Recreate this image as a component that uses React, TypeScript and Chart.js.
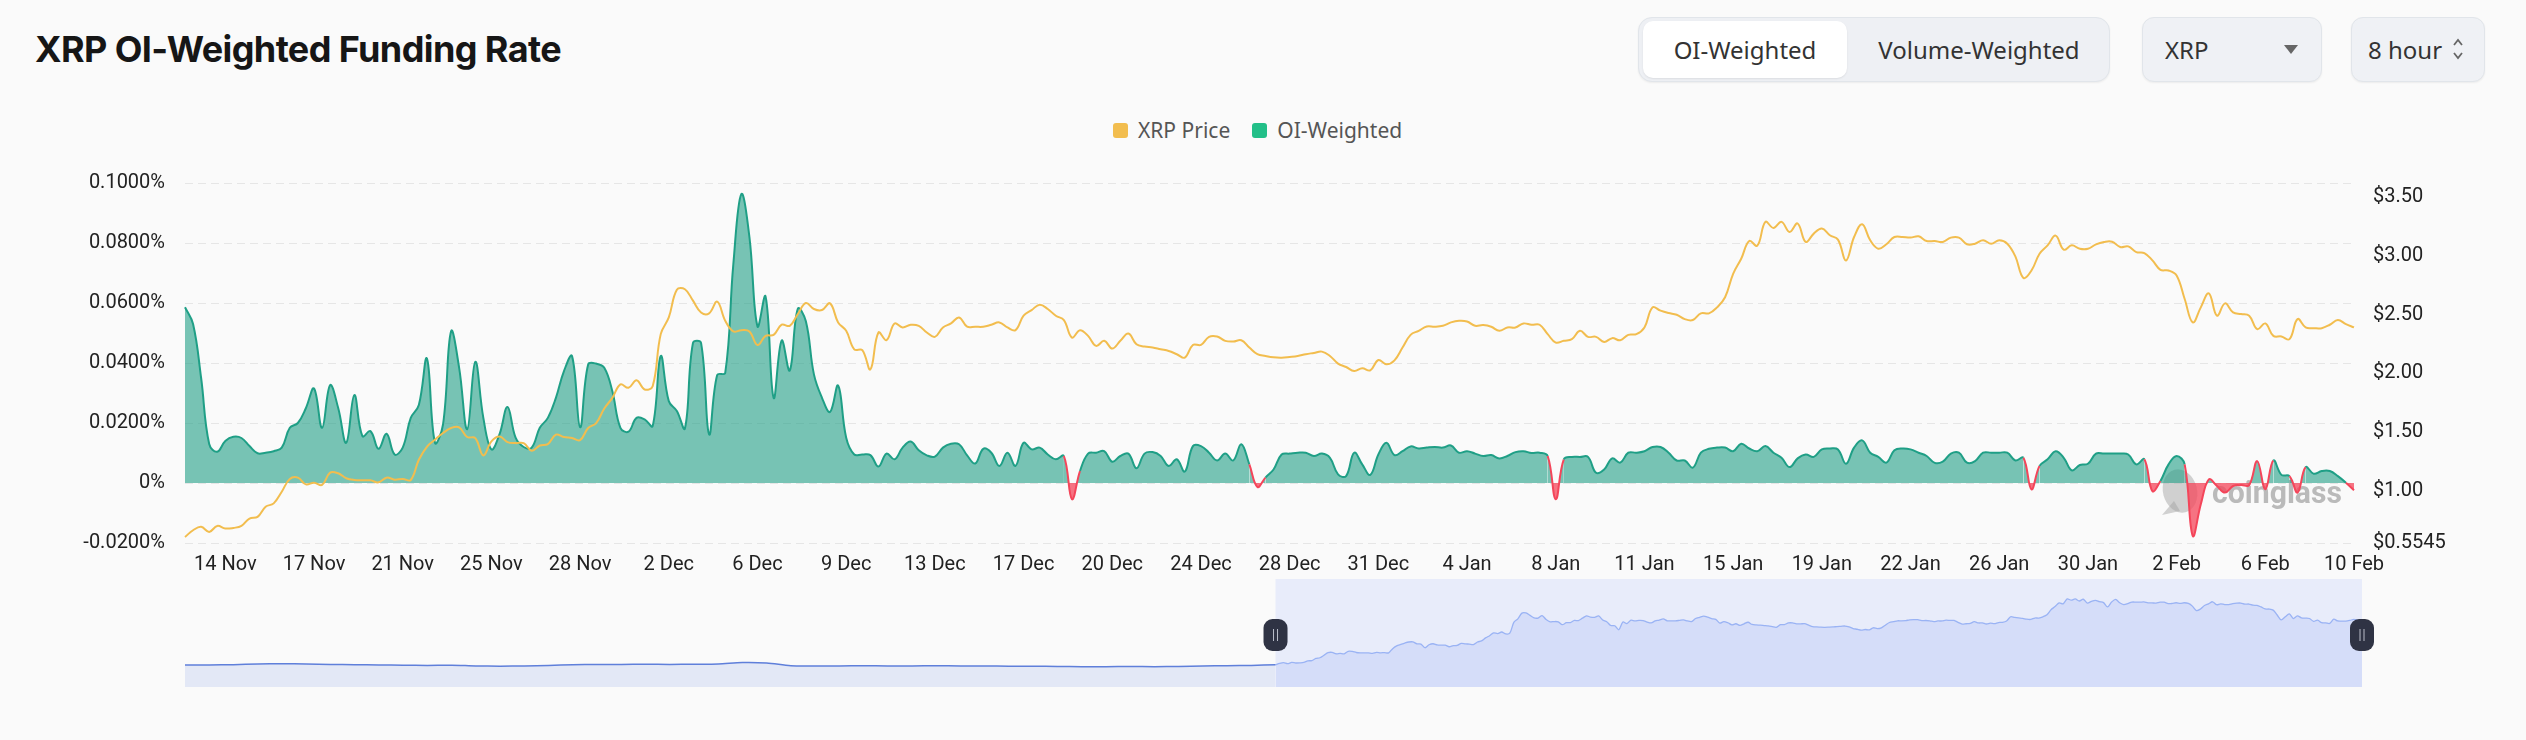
import React, { useEffect, useRef } from "react";
import { Chart, registerables } from "chart.js";

Chart.register(...registerables);

// ---------- data ----------
const START_UTC = Date.UTC(2024, 10, 12, 8); // first 8-hour bucket
const STEP_HOURS = 8;
const MONTHS = ["Jan", "Feb", "Mar", "Apr", "May", "Jun", "Jul", "Aug", "Sep", "Oct", "Nov", "Dec"];
const TICK_FIRST = 5;
const TICK_EVERY = 11;

// OI-weighted funding rate, in percent
const FUNDING = [
  0.0586, 0.053, 0.035, 0.013, 0.0104, 0.014, 0.0154, 0.015, 0.0123, 0.0099,
  0.0101, 0.0106, 0.0118, 0.0184, 0.02, 0.025, 0.0315, 0.0184, 0.0326, 0.025,
  0.0134, 0.0293, 0.0156, 0.0173, 0.0114, 0.0164, 0.0095, 0.0118, 0.0217, 0.026,
  0.0415, 0.0134, 0.0195, 0.0506, 0.0384, 0.0179, 0.0404, 0.0217, 0.0112, 0.0162,
  0.0253, 0.0151, 0.012, 0.0118, 0.0184, 0.0217, 0.0284, 0.0373, 0.0423, 0.0186,
  0.0395, 0.0398, 0.0384, 0.0306, 0.0184, 0.0171, 0.0217, 0.0212, 0.019, 0.0423,
  0.0273, 0.024, 0.0182, 0.0467, 0.0467, 0.0162, 0.036, 0.0367, 0.0728, 0.0963,
  0.082, 0.0522, 0.0622, 0.0284, 0.0475, 0.0375, 0.0581, 0.0539, 0.0362, 0.0284,
  0.0237, 0.0325, 0.0151, 0.0095, 0.0095, 0.0093, 0.0055, 0.0098, 0.0079, 0.0118,
  0.0138, 0.0109, 0.0092, 0.0088, 0.0118, 0.0131, 0.0129, 0.0092, 0.0065, 0.0114,
  0.0101, 0.0057, 0.0101, 0.0057, 0.0134, 0.0112, 0.0118, 0.0095, 0.0079, 0.009,
  -0.0054, 0.004, 0.0098, 0.0101, 0.0106, 0.0071, 0.009, 0.0098, 0.0049, 0.0098,
  0.0103, 0.009, 0.0057, 0.0079, 0.0038, 0.0123, 0.0123, 0.0101, 0.0075, 0.0098,
  0.0075, 0.0129, 0.0062, -0.0013, 0.0018, 0.0045, 0.0095, 0.0098, 0.0101, 0.0101,
  0.009, 0.0098, 0.0084, 0.0029, 0.0023, 0.0101, 0.0062, 0.0027, 0.0095, 0.0134,
  0.0093, 0.0106, 0.0122, 0.0115, 0.0118, 0.012, 0.0118, 0.0125, 0.0101, 0.0106,
  0.0098, 0.009, 0.0093, 0.0082, 0.009, 0.0103, 0.0106, 0.01, 0.0101, 0.009,
  -0.0054, 0.0079, 0.0087, 0.0087, 0.0087, 0.0034, 0.0045, 0.0082, 0.0068, 0.0101,
  0.0101, 0.0106, 0.012, 0.012, 0.0101, 0.0075, 0.0075, 0.0051, 0.0101, 0.0114,
  0.0118, 0.0118, 0.0106, 0.0131, 0.0115, 0.0106, 0.0123, 0.0101, 0.0084, 0.0053,
  0.0082, 0.0095, 0.0087, 0.0112, 0.0115, 0.0112, 0.0064, 0.0118, 0.0142, 0.0101,
  0.0087, 0.0068, 0.0109, 0.0115, 0.0112, 0.0101, 0.009, 0.0067, 0.0071, 0.0098,
  0.0101, 0.0068, 0.0073, 0.0101, 0.0101, 0.0101, 0.0101, 0.0075, 0.0084, -0.0021,
  0.0057, 0.0079, 0.0106, 0.0084, 0.0042, 0.006, 0.0064, 0.0098, 0.0098, 0.0098,
  0.0098, 0.0095, 0.0062, 0.0079, -0.0027, 0.0007, 0.0062, 0.009, 0.0062, -0.0176,
  -0.0071, 0.0012, -0.001, -0.0032, -0.001, -0.0007, -0.0007, 0.0073, -0.0021, 0.0075,
  0.0027, 0.0023, -0.0032, 0.0053, 0.0031, 0.004, 0.004, 0.0023, 0.0001, -0.0024,
];

// XRP price, USD
const PRICE = [
  0.606, 0.663, 0.692, 0.649, 0.7, 0.678, 0.683, 0.7, 0.763, 0.777,
  0.863, 0.892, 0.991, 1.1, 1.111, 1.054, 1.068, 1.049, 1.154, 1.148,
  1.106, 1.091, 1.088, 1.088, 1.071, 1.111, 1.094, 1.1, 1.091, 1.263,
  1.374, 1.434, 1.491, 1.534, 1.539, 1.457, 1.448, 1.3, 1.42, 1.462,
  1.414, 1.405, 1.405, 1.34, 1.385, 1.397, 1.477, 1.457, 1.448, 1.431,
  1.534, 1.576, 1.7, 1.79, 1.905, 1.876, 1.94, 1.862, 1.89, 2.333,
  2.475, 2.71, 2.715, 2.618, 2.518, 2.51, 2.61, 2.447, 2.356, 2.367,
  2.356, 2.24, 2.318, 2.327, 2.413, 2.404, 2.504, 2.598, 2.547, 2.538,
  2.595, 2.433, 2.361, 2.204, 2.196, 2.033, 2.347, 2.281, 2.424, 2.39,
  2.413, 2.404, 2.347, 2.31, 2.39, 2.424, 2.475, 2.396, 2.396, 2.396,
  2.413, 2.433, 2.39, 2.367, 2.49, 2.538, 2.584, 2.547, 2.49, 2.453,
  2.304, 2.367, 2.318, 2.233, 2.276, 2.21, 2.276, 2.338, 2.247, 2.227,
  2.219, 2.204, 2.19, 2.162, 2.133, 2.241, 2.241, 2.31, 2.313, 2.276,
  2.27, 2.281, 2.219, 2.162, 2.147, 2.136, 2.133, 2.139, 2.147, 2.162,
  2.173, 2.184, 2.147, 2.082, 2.053, 2.019, 2.042, 2.025, 2.113, 2.076,
  2.11, 2.219, 2.327, 2.361, 2.398, 2.396, 2.404, 2.433, 2.447, 2.441,
  2.404, 2.41, 2.396, 2.361, 2.39, 2.39, 2.424, 2.413, 2.413, 2.333,
  2.261, 2.276, 2.29, 2.361, 2.31, 2.31, 2.267, 2.299, 2.281, 2.327,
  2.333, 2.39, 2.561, 2.533, 2.513, 2.498, 2.461, 2.453, 2.51, 2.51,
  2.561, 2.647, 2.847, 2.975, 3.126, 3.086, 3.289, 3.237, 3.289, 3.203,
  3.275, 3.118, 3.189, 3.232, 3.175, 3.138, 2.961, 3.16, 3.269, 3.132,
  3.06, 3.098, 3.16, 3.16, 3.155, 3.166, 3.126, 3.126, 3.118, 3.155,
  3.155, 3.098, 3.103, 3.132, 3.103, 3.132, 3.103, 2.995, 2.812, 2.875,
  3.018, 3.089, 3.172, 3.052, 3.089, 3.06, 3.06, 3.098, 3.118, 3.12,
  3.075, 3.08, 3.032, 3.023, 2.961, 2.881, 2.875, 2.832, 2.632, 2.433,
  2.561, 2.681, 2.49, 2.595, 2.518, 2.504, 2.49, 2.376, 2.424, 2.318,
  2.313, 2.29, 2.461, 2.39, 2.384, 2.384, 2.413, 2.453, 2.418, 2.39,
];

// Earlier price history shown only in the zoom navigator (one value every 6 buckets)
const NAV_HISTORY_STEP = 6;
const NAV_HISTORY = [
  0.6, 0.6, 0.61, 0.64, 0.65, 0.64, 0.62, 0.61, 0.6, 0.59,
  0.58, 0.59, 0.56, 0.55, 0.56, 0.58, 0.61, 0.62, 0.62, 0.63,
  0.62, 0.63, 0.64, 0.7, 0.68, 0.57, 0.56, 0.56, 0.57, 0.56,
  0.56, 0.57, 0.56, 0.56, 0.55, 0.55, 0.54, 0.53, 0.53, 0.54,
  0.53, 0.54, 0.56, 0.57, 0.58,
];

const LEFT_TICKS = [-0.02, 0, 0.02, 0.04, 0.06, 0.08, 0.1];
const RIGHT_MIN = 0.5545;
const RIGHT_MAX = 3.62;
const RIGHT_TICKS = [0.5545, 1, 1.5, 2, 2.5, 3, 3.5];

const SERIES_PRICE = "XRP Price";
const SERIES_FUNDING = "OI-Weighted";

// ---------- styles ----------
const PRICE_COLOR = "#f2bd4e";
const GREEN_LINE = "#1f9f86";
const GREEN_FILL = "rgba(31,159,134,0.6)";
const GREEN_LEGEND = "#22bf88";
const RED_LINE = "#f4455a";
const RED_FILL = "rgba(244,69,90,0.75)";
const BG = "#fafafa";
const TICK_FONT = { family: "Roboto", size: 20 };

const CATEGORIES = FUNDING.map((_, i) => {
  const d = new Date(START_UTC + i * STEP_HOURS * 3600 * 1000);
  return `${d.getUTCDate()} ${MONTHS[d.getUTCMonth()]}`;
});

const PRICE_X0 = NAV_HISTORY.length * NAV_HISTORY_STEP;

const watermark = {
  id: "watermark",
  beforeDatasetsDraw(chart: any) {
    const { ctx, chartArea: a } = chart;
    ctx.save();
    ctx.fillStyle = "rgba(165,165,165,0.5)";
    ctx.beginPath();
    ctx.ellipse(a.right - 174, a.bottom - 52, 17, 22, -0.25, 0, Math.PI * 2);
    ctx.fill();
    ctx.beginPath();
    ctx.moveTo(a.right - 192, a.bottom - 28);
    ctx.lineTo(a.right - 180, a.bottom - 42);
    ctx.lineTo(a.right - 174, a.bottom - 32);
    ctx.closePath();
    ctx.fill();
    ctx.font = "bold 32px Roboto";
    ctx.textAlign = "right";
    ctx.textBaseline = "alphabetic";
    ctx.fillStyle = "rgba(170,170,170,0.8)";
    ctx.fillText("coinglass", a.right - 12, a.bottom - 40, 130);
    ctx.restore();
  },
};

const navWindow = {
  id: "navWindow",
  beforeDatasetsDraw(chart: any) {
    const { ctx, chartArea: a, scales } = chart;
    const x0 = scales.x.getPixelForValue(PRICE_X0);
    const x1 = scales.x.getPixelForValue(PRICE_X0 + PRICE.length - 1);
    ctx.save();
    ctx.fillStyle = "#e8ecfa";
    ctx.fillRect(x0, a.top, x1 - x0, a.bottom - a.top);
    ctx.restore();
  },
  afterDraw(chart: any) {
    const { ctx, chartArea: a, scales } = chart;
    const xs = [
      scales.x.getPixelForValue(PRICE_X0),
      scales.x.getPixelForValue(PRICE_X0 + PRICE.length - 1),
    ];
    const cy = (a.top + a.bottom) / 2 + 2;
    ctx.save();
    for (const x of xs) {
      const w = 24, h = 32, r = 9;
      ctx.fillStyle = "#2f3344";
      ctx.beginPath();
      ctx.roundRect(x - w / 2, cy - h / 2, w, h, r);
      ctx.fill();
      ctx.strokeStyle = "rgba(220,224,235,0.8)";
      ctx.lineWidth = 1;
      ctx.beginPath();
      ctx.moveTo(x - 2, cy - 6);
      ctx.lineTo(x - 2, cy + 6);
      ctx.moveTo(x + 2, cy - 6);
      ctx.lineTo(x + 2, cy + 6);
      ctx.stroke();
    }
    ctx.restore();
  },
};

function MainChart() {
  const ref = useRef<HTMLCanvasElement | null>(null);
  useEffect(() => {
    if (!ref.current) return;
    const chart = new Chart(ref.current, {
      type: "line",
      data: {
        labels: CATEGORIES,
        datasets: [
          {
            label: SERIES_PRICE,
            data: PRICE,
            yAxisID: "yR",
            borderColor: PRICE_COLOR,
            borderWidth: 2,
            pointRadius: 0,
            tension: 0.4,
            fill: false,
            order: 0,
          },
          {
            label: SERIES_FUNDING,
            data: FUNDING,
            yAxisID: "yL",
            borderColor: GREEN_LINE,
            borderWidth: 2,
            pointRadius: 0,
            tension: 0.4,
            fill: { target: { value: 0 }, above: GREEN_FILL, below: RED_FILL },
            segment: {
              borderColor: (c: any) =>
                c.p0.parsed.y < 0 || c.p1.parsed.y < 0 ? RED_LINE : GREEN_LINE,
            },
            order: 1,
          } as any,
        ],
      },
      options: {
        animation: false,
        responsive: true,
        maintainAspectRatio: false,
        events: [],
        layout: { padding: { top: 83, bottom: 0, left: 0, right: 0 } },
        plugins: { legend: { display: false }, tooltip: { enabled: false } },
        scales: {
          x: {
            type: "category",
            offset: false,
            grid: { display: false, drawTicks: false },
            border: { display: false },
            ticks: {
              autoSkip: false,
              maxRotation: 0,
              padding: 10,
              color: "#222",
              font: TICK_FONT,
              callback: function (this: any, val: any, index: number) {
                return (index - TICK_FIRST) % TICK_EVERY === 0 && index >= TICK_FIRST
                  ? CATEGORIES[index]
                  : null;
              },
            },
            afterFit: (s: any) => {
              s.height = 47;
            },
          },
          yL: {
            type: "linear",
            position: "left",
            min: -0.02,
            max: 0.1,
            afterBuildTicks: (s: any) => {
              s.ticks = LEFT_TICKS.map((v) => ({ value: v }));
            },
            afterFit: (s: any) => {
              s.width = 185;
            },
            grid: { color: "#e6e6e6", lineWidth: 1, drawTicks: false },
            border: { display: false, dash: [8, 5] },
            ticks: {
              padding: 20,
              color: "#222",
              font: TICK_FONT,
              callback: (v: any) => (v === 0 ? "0%" : Number(v).toFixed(4) + "%"),
            },
          },
          yR: {
            type: "linear",
            position: "right",
            min: RIGHT_MIN,
            max: RIGHT_MAX,
            afterBuildTicks: (s: any) => {
              s.ticks = RIGHT_TICKS.map((v) => ({ value: v }));
            },
            afterFit: (s: any) => {
              s.width = 172;
            },
            grid: { display: false, drawTicks: false },
            border: { display: false },
            ticks: {
              padding: 19,
              color: "#222",
              font: TICK_FONT,
              callback: (v: any) =>
                v === RIGHT_MIN ? "$" + RIGHT_MIN : "$" + Number(v).toFixed(2),
            },
          },
        },
      } as any,
      plugins: [watermark],
    });
    return () => chart.destroy();
  }, []);
  return (
    <div style={{ position: "absolute", left: 0, top: 100, width: 2526, height: 490 }}>
      <canvas ref={ref} />
    </div>
  );
}

function NavChart() {
  const ref = useRef<HTMLCanvasElement | null>(null);
  useEffect(() => {
    if (!ref.current) return;
    const history = NAV_HISTORY.map((v, k) => ({ x: k * NAV_HISTORY_STEP, y: v }));
    history.push({ x: PRICE_X0, y: PRICE[0] });
    const current = PRICE.map((v, i) => ({ x: PRICE_X0 + i, y: v }));
    const chart = new Chart(ref.current, {
      type: "line",
      data: {
        datasets: [
          {
            data: history,
            borderColor: "#5f7fda",
            borderWidth: 1.5,
            pointRadius: 0,
            tension: 0.3,
            fill: "start",
            backgroundColor: "#e3e8f6",
          },
          {
            data: current,
            borderColor: "#9ab3f4",
            borderWidth: 1.3,
            pointRadius: 0,
            tension: 0.3,
            fill: "start",
            backgroundColor: "#d5ddf9",
          },
        ],
      },
      options: {
        animation: false,
        responsive: true,
        maintainAspectRatio: false,
        events: [],
        layout: { padding: { left: 185, right: 164, top: 0, bottom: 0 } },
        plugins: { legend: { display: false }, tooltip: { enabled: false } },
        scales: {
          x: { type: "linear", display: false, min: 0, max: PRICE_X0 + PRICE.length - 1 },
          y: { type: "linear", display: false, min: -0.3, max: 4.1 },
        },
      } as any,
      plugins: [navWindow],
    });
    return () => chart.destroy();
  }, []);
  return (
    <div style={{ position: "absolute", left: 0, top: 579, width: 2526, height: 108 }}>
      <canvas ref={ref} />
    </div>
  );
}

function Legend() {
  const items = [
    { label: SERIES_PRICE, color: PRICE_COLOR },
    { label: SERIES_FUNDING, color: GREEN_LEGEND },
  ];
  return (
    <div
      style={{
        position: "absolute",
        left: 1113,
        top: 116,
        height: 28,
        display: "flex",
        alignItems: "center",
        gap: 22,
        fontFamily: "Noto Sans",
        fontSize: 21,
        color: "#555",
      }}
    >
      {items.map((it) => (
        <div key={it.label} style={{ display: "flex", alignItems: "center", gap: 10 }}>
          <div style={{ width: 15, height: 15, borderRadius: 3, background: it.color }} />
          <span>{it.label}</span>
        </div>
      ))}
    </div>
  );
}

function Header() {
  const boxBase: React.CSSProperties = {
    position: "absolute",
    top: 17,
    height: 65,
    boxSizing: "border-box",
    background: "#eff1f5",
    border: "1px solid #e1e5ea",
    borderRadius: 12,
    boxShadow: "0 1px 2px rgba(0,0,0,0.06)",
    fontFamily: "Noto Sans",
    fontSize: 24,
    color: "#333",
    display: "flex",
    alignItems: "center",
  };
  return (
    <>
      <div
        style={{
          position: "absolute",
          left: 35,
          top: 28,
          fontFamily: "Inter",
          fontWeight: 700,
          fontSize: 36,
          lineHeight: "42px",
          letterSpacing: "-0.6px",
          color: "#161616",
          whiteSpace: "nowrap",
        }}
      >
        XRP OI-Weighted Funding Rate
      </div>
      <div style={{ ...boxBase, left: 1638, width: 472, borderRadius: 14, background: "#eef0f4" }}>
        <div
          style={{
            position: "absolute",
            left: 4,
            top: 3,
            width: 204,
            height: 57,
            background: "#ffffff",
            borderRadius: 10,
            boxShadow: "0 1px 2px rgba(0,0,0,0.08)",
            display: "flex",
            alignItems: "center",
            justifyContent: "center",
          }}
        >
          OI-Weighted
        </div>
        <div
          style={{
            position: "absolute",
            left: 208,
            width: 264,
            top: 0,
            height: 63,
            display: "flex",
            alignItems: "center",
            justifyContent: "center",
          }}
        >
          Volume-Weighted
        </div>
      </div>
      <div style={{ ...boxBase, left: 2142, width: 180, paddingLeft: 22 }}>
        XRP
        <svg
          width="14"
          height="9"
          style={{ position: "absolute", left: 141, top: 27 }}
          viewBox="0 0 14 9"
        >
          <polygon points="0,0 14,0 7,9" fill="#666" />
        </svg>
      </div>
      <div style={{ ...boxBase, left: 2351, width: 134, paddingLeft: 16 }}>
        8 hour
        <svg
          width="14"
          height="26"
          style={{ position: "absolute", left: 99, top: 18 }}
          viewBox="0 0 14 26"
        >
          <polyline points="3,9 7,4 11,9" fill="none" stroke="#666" strokeWidth="1.8" />
          <polyline points="3,17 7,22 11,17" fill="none" stroke="#666" strokeWidth="1.8" />
        </svg>
      </div>
    </>
  );
}

export default function App() {
  useEffect(() => {
    document.body.style.margin = "0";
    document.body.style.background = BG;
  }, []);
  return (
    <div
      style={{
        position: "relative",
        width: 2526,
        height: 740,
        background: BG,
        overflow: "hidden",
      }}
    >
      <Header />
      <Legend />
      <MainChart />
      <NavChart />
    </div>
  );
}
